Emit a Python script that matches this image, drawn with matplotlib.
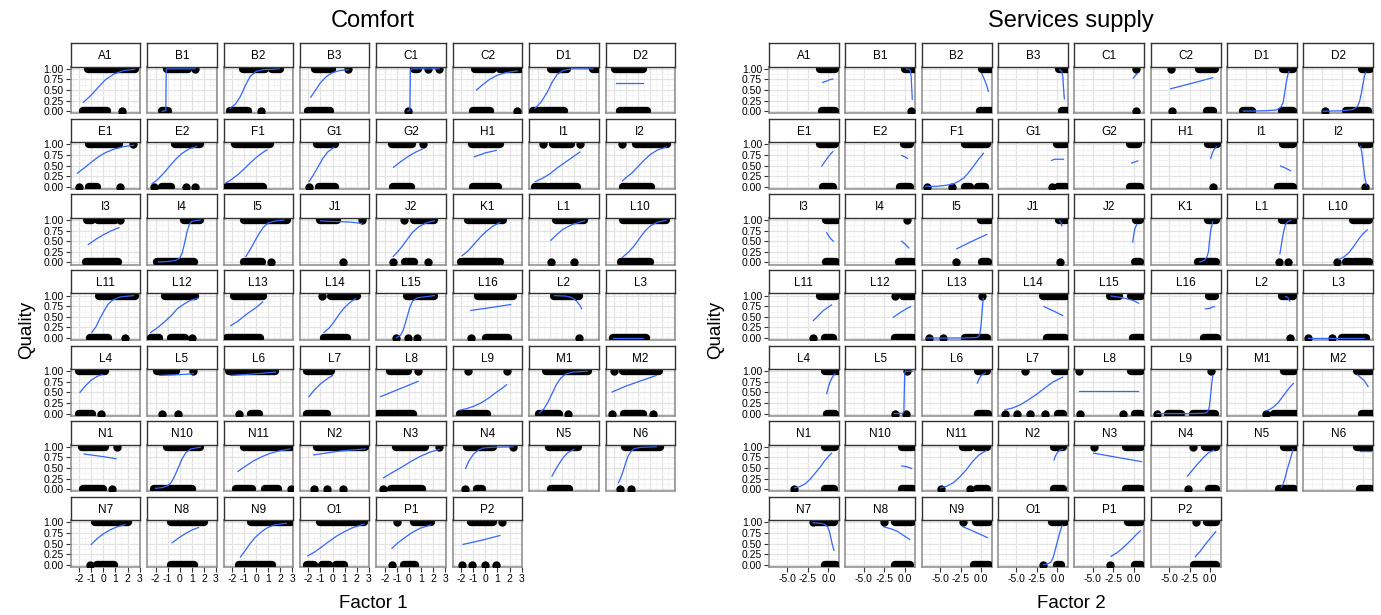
import matplotlib
matplotlib.use('Agg')
import matplotlib.pyplot as plt

plt.rcParams['font.family'] = ['Liberation Sans', 'DejaVu Sans']

# panel order (facet_wrap, 8 columns)
panels = ['A1', 'B1', 'B2', 'B3', 'C1', 'C2', 'D1', 'D2',
          'E1', 'E2', 'F1', 'G1', 'G2', 'H1', 'I1', 'I2',
          'I3', 'I4', 'I5', 'J1', 'J2', 'K1', 'L1', 'L10',
          'L11', 'L12', 'L13', 'L14', 'L15', 'L16', 'L2', 'L3',
          'L4', 'L5', 'L6', 'L7', 'L8', 'L9', 'M1', 'M2',
          'N1', 'N10', 'N11', 'N2', 'N3', 'N4', 'N5', 'N6',
          'N7', 'N8', 'N9', 'O1', 'P1', 'P2']

# observed points: (x_from, x_to) clusters of overlapping dots, at quality 1 and quality 0
comfort_ones = {
    'A1': [(-1.25, 2.6)], 'B1': [(-1.05, 0.7), (1.25, 1.25)], 'B2': [(-1.1, 0.75), (1.3, 1.95)],
    'B3': [(-1.45, -0.05), (1.3, 1.3)], 'C1': [(0.4, 0.75), (1.6, 1.6), (2.5, 2.5)],
    'C2': [(-0.85, 0.65), (1.2, 2.85)], 'D1': [(-0.9, 0.45), (2.6, 2.9)], 'D2': [(-1.9, 0.4)],
    'E1': [(-1.15, 1.3), (2.45, 2.45)], 'E2': [(-0.4, 1.7)], 'F1': [(-1.75, 1.15)],
    'G1': [(-1.3, 0.2)], 'G2': [(-1.4, 0.25), (1.15, 1.15)], 'H1': [(-1.1, 1.2)],
    'I1': [(-1.55, -1.55), (-0.7, 0.8), (1.5, 1.5)], 'I2': [(-1.3, -1.3), (-0.15, 2.35)],
    'I3': [(-1.35, -0.95), (-0.45, 0.95), (1.4, 1.4)], 'I4': [(0.35, 1.7)], 'I5': [(-1.0, 2.55)],
    'J1': [(-1.0, 0.4), (2.45, 2.45)], 'J2': [(-0.4, -0.4), (0.45, 2.1)], 'K1': [(-1.45, 1.45)],
    'L1': [(-0.45, 1.85)], 'L10': [(-1.25, 2.3)], 'L11': [(-0.35, 2.6)], 'L12': [(-1.2, 1.3)],
    'L13': [(-1.85, 0.6)], 'L14': [(-0.85, -0.85), (-0.15, 2.05)], 'L15': [(-0.2, 2.1)],
    'L16': [(-0.6, 2.3)], 'L2': [(-0.6, 1.45)], 'L3': [],
    'L4': [(-2.05, 0.15)], 'L5': [(-1.85, -0.35), (1.1, 1.1)], 'L6': [(-2.25, 1.6)],
    'L7': [(-2.1, -0.15)], 'L8': [(-1.6, -0.1), (0.75, 0.75)], 'L9': [(-1.45, -1.45), (1.8, 1.8)],
    'M1': [(-1.3, 2.15)], 'M2': [(-2.0, -2.0), (-1.25, 1.75)],
    'N1': [(-1.8, 0.15), (1.15, 1.15)], 'N10': [(-1.05, 1.7)], 'N11': [(-1.0, 2.85)],
    'N2': [(-1.25, 2.7)], 'N3': [(-1.05, 1.3), (2.5, 2.5)], 'N4': [(-1.55, 0.65), (2.3, 2.3)],
    'N5': [(-1.05, 1.35)], 'N6': [(-1.1, 1.85)],
    'N7': [(-0.7, 2.05)], 'N8': [(-0.75, 2.0)], 'N9': [(-0.45, 2.85)], 'O1': [(-1.0, 2.6)],
    'P1': [(-0.95, -0.95), (0.45, 1.8)], 'P2': [(-1.2, 0.65), (1.4, 1.4)],
}
comfort_zeros = {
    'A1': [(-1.7, 0.3), (1.55, 1.55)], 'B1': [(-1.45, -1.0)], 'B2': [(-2.2, -0.7), (0.4, 0.4)],
    'B3': [(-2.0, -0.2)], 'C1': [(-0.1, -0.1)], 'C2': [(-1.0, 0.4), (2.65, 2.65)],
    'D1': [(-2.35, 0.15)], 'D2': [(-1.5, 0.7)],
    'E1': [(-2.05, -2.05), (-1.2, -0.5), (1.4, 1.4)],
    'E2': [(-2.1, -2.1), (-1.45, -0.75), (0.5, 0.5), (1.3, 1.3)], 'F1': [(-2.4, 0.6)],
    'G1': [(-1.95, -1.95), (-1.15, 0.2)], 'G2': [(-1.3, 0.15)], 'H1': [(-1.05, 1.05)],
    'I1': [(-2.2, -1.25), (-0.95, 1.25)], 'I2': [(-1.25, 1.1)],
    'I3': [(-1.45, 1.25)], 'I4': [(-1.85, 1.15)], 'I5': [(-1.0, 0.5), (1.25, 1.25)],
    'J1': [(0.85, 0.85)], 'J2': [(-1.3, -1.3), (-0.35, 0.4), (1.55, 1.55)], 'K1': [(-2.05, 1.2)],
    'L1': [(-0.9, -0.9), (1.0, 1.0)], 'L10': [(-1.4, 0.95)],
    'L11': [(-1.1, 0.4), (1.8, 1.8)], 'L12': [(-2.4, -1.75), (-0.75, 0.45), (1.0, 1.0)],
    'L13': [(-2.4, 0.35)], 'L14': [(-0.7, 1.2)], 'L15': [(-1.05, -1.05), (-0.1, -0.1), (0.7, 0.7)],
    'L16': [(-1.2, -1.2), (0.05, 1.85)], 'L2': [(1.4, 1.4)], 'L3': [(-2.1, 0.65)],
    'L4': [(-2.05, -0.9), (-0.2, -0.2)], 'L5': [(-1.45, -1.45), (-0.15, -0.15)],
    'L6': [(-1.45, -1.45), (-0.4, 0.2)], 'L7': [(-2.1, -0.45)], 'L8': [(-2.55, 0.35)],
    'L9': [(-2.1, 0.1)], 'M1': [(-1.85, -0.2), (0.5, 0.5)],
    'M2': [(-2.15, -2.15), (-1.15, 0.4), (1.2, 1.2)],
    'N1': [(-1.7, 0.0), (0.75, 0.75)], 'N10': [(-2.15, 1.0)],
    'N11': [(-1.7, -0.35), (0.75, 1.85), (2.85, 2.85)],
    'N2': [(-1.55, -1.55), (-0.45, -0.45), (0.9, 0.9)], 'N3': [(-2.15, -2.15), (-1.5, 1.05)],
    'N4': [(-1.65, -1.65), (-0.7, -0.3)], 'N5': [(-0.85, 0.6)], 'N6': [(-1.5, -1.5), (-0.6, -0.6)],
    'N7': [(-1.1, -1.1), (-0.55, 0.85)], 'N8': [(-0.75, 1.15)], 'N9': [(-1.45, 1.3)],
    'O1': [(-2.1, -1.55), (-0.85, -0.3), (0.25, 0.95)], 'P1': [(-1.4, -1.4), (-0.4, 0.5)],
    'P2': [(-1.95, -1.95), (-1.1, -1.1), (0.0, 0.0), (0.85, 0.85)],
}
# fitted curve (x, probability)
comfort_fit = {
    'A1': [(-1.65, 0.21), (-1.0, 0.38), (-0.4, 0.57), (0.2, 0.75), (0.9, 0.88), (1.7, 0.96), (2.6, 0.99)],
    'B1': [(-1.45, 0.0), (-1.15, 0.01), (-1.12, 0.99), (-1.05, 1.0), (1.25, 1.0)],
    'B2': [(-2.15, 0.07), (-1.7, 0.17), (-1.3, 0.35), (-0.9, 0.6), (-0.5, 0.82), (0, 0.94), (0.6, 0.98), (1.9, 1.0)],
    'B3': [(-1.8, 0.33), (-1.4, 0.5), (-1.0, 0.67), (-0.5, 0.82), (0, 0.91), (0.6, 0.96), (1.3, 0.98)],
    'C1': [(-0.1, 0.0), (0.08, 0.02), (0.12, 0.97), (0.3, 1.0), (2.5, 1.0)],
    'C2': [(-0.72, 0.5), (-0.2, 0.63), (0.4, 0.76), (1.0, 0.85), (1.7, 0.91), (2.65, 0.95)],
    'D1': [(-2.2, 0.07), (-1.7, 0.22), (-1.2, 0.45), (-0.8, 0.68), (-0.4, 0.86), (0.1, 0.96), (0.9, 1.0), (2.6, 1.0)],
    'D2': [(-1.8, 0.66), (0.4, 0.66)],
    'E1': [(-2.15, 0.32), (-1.6, 0.44), (-1.0, 0.58), (-0.4, 0.71), (0.2, 0.81), (0.9, 0.89), (1.7, 0.95), (2.5, 0.98)],
    'E2': [(-2.3, 0.07), (-1.8, 0.18), (-1.3, 0.33), (-0.8, 0.5), (-0.3, 0.66), (0.2, 0.79), (0.8, 0.9), (1.4, 0.95)],
    'F1': [(-2.5, 0.09), (-2.0, 0.18), (-1.5, 0.29), (-1.0, 0.42), (-0.5, 0.56), (0, 0.69), (0.5, 0.8), (0.9, 0.87)],
    'G1': [(-1.95, 0.12), (-1.6, 0.27), (-1.2, 0.47), (-0.8, 0.67), (-0.4, 0.82), (0.1, 0.93)],
    'G2': [(-1.27, 0.46), (-0.7, 0.59), (-0.1, 0.71), (0.5, 0.81), (1.1, 0.89)],
    'H1': [(-0.9, 0.71), (0, 0.8), (0.9, 0.86)],
    'I1': [(-2.2, 0.12), (-1.6, 0.2), (-1.0, 0.3), (-0.4, 0.44), (0.2, 0.56), (0.9, 0.7), (1.5, 0.82)],
    'I2': [(-1.3, 0.14), (-0.9, 0.24), (-0.5, 0.33), (0, 0.48), (0.5, 0.63), (1.0, 0.76), (1.6, 0.87), (2.35, 0.94)],
    'I3': [(-1.25, 0.42), (-0.6, 0.55), (0, 0.65), (0.6, 0.74), (1.3, 0.82)],
    'I4': [(-1.75, 0.01), (-1.0, 0.02), (-0.3, 0.05), (0, 0.1), (0.2, 0.22), (0.4, 0.45), (0.6, 0.72), (0.8, 0.9), (1.0, 0.97), (1.7, 1.0)],
    'I5': [(-0.85, 0.14), (-0.5, 0.3), (-0.15, 0.48), (0.2, 0.66), (0.6, 0.83), (1.0, 0.93), (1.6, 0.98), (2.3, 1.0)],
    'J1': [(-1.0, 0.98), (0.6, 0.96), (1.5, 0.95), (2.4, 0.92)],
    'J2': [(-1.3, 0.14), (-0.9, 0.26), (-0.5, 0.4), (-0.1, 0.56), (0.3, 0.71), (0.8, 0.84), (1.4, 0.93), (2.1, 0.98)],
    'K1': [(-1.9, 0.16), (-1.4, 0.28), (-0.9, 0.44), (-0.4, 0.6), (0.1, 0.74), (0.6, 0.85), (1.2, 0.94)],
    'L1': [(-0.9, 0.52), (-0.4, 0.66), (0.1, 0.78), (0.9, 0.9), (1.9, 0.98)],
    'L10': [(-1.3, 0.12), (-0.8, 0.24), (-0.3, 0.4), (0.2, 0.6), (0.6, 0.75), (1.0, 0.86), (1.6, 0.95), (2.3, 0.99)],
    'L11': [(-0.95, 0.13), (-0.6, 0.27), (-0.3, 0.45), (0.1, 0.66), (0.4, 0.8), (0.8, 0.9), (1.4, 0.97), (2.5, 1.0)],
    'L12': [(-2.4, 0.13), (-1.9, 0.23), (-1.3, 0.37), (-0.7, 0.53), (-0.2, 0.69), (0.4, 0.81), (0.9, 0.89), (1.5, 0.94)],
    'L13': [(-2.1, 0.29), (-1.5, 0.4), (-0.8, 0.56), (0, 0.72), (0.55, 0.85)],
    'L14': [(-0.72, 0.13), (-0.3, 0.23), (0.1, 0.37), (0.5, 0.54), (0.9, 0.69), (1.4, 0.83), (1.9, 0.93)],
    'L15': [(-1.05, 0.01), (-0.7, 0.06), (-0.45, 0.2), (-0.2, 0.45), (0.05, 0.7), (0.3, 0.87), (0.7, 0.95), (2.1, 1.0)],
    'L16': [(-1.2, 0.65), (0.5, 0.72), (2.1, 0.79)],
    'L2': [(-0.6, 1.0), (0.3, 0.99), (0.8, 0.96), (1.2, 0.88), (1.5, 0.77), (1.65, 0.69)],
    'L3': [(-2.05, 0.0), (0.4, 0.0)],
    'L4': [(-1.93, 0.5), (-1.5, 0.65), (-1.0, 0.79), (-0.5, 0.88), (-0.1, 0.92)],
    'L5': [(-1.65, 0.9), (-1.0, 0.91), (0, 0.92), (1.15, 0.94)],
    'L6': [(-2.1, 0.9), (0, 0.94), (1.6, 0.98)],
    'L7': [(-1.95, 0.4), (-1.5, 0.56), (-1.0, 0.7), (-0.5, 0.81), (0, 0.9)],
    'L8': [(-2.35, 0.4), (-0.8, 0.58), (0.75, 0.76)],
    'L9': [(-2.1, 0.08), (-1.5, 0.12), (-0.9, 0.18), (-0.3, 0.26), (0.3, 0.37), (0.9, 0.5), (1.4, 0.6), (1.75, 0.68)],
    'M1': [(-1.83, 0.02), (-1.5, 0.1), (-1.2, 0.24), (-0.8, 0.47), (-0.45, 0.68), (-0.1, 0.83), (0.3, 0.93), (0.9, 0.98), (2.1, 1.0)],
    'M2': [(-2.15, 0.51), (-1.0, 0.65), (0, 0.75), (0.8, 0.83), (1.5, 0.9)],
    'N1': [(-1.6, 0.83), (-0.3, 0.78), (1.05, 0.72)],
    'N10': [(-2.0, 0.02), (-1.4, 0.04), (-1.0, 0.08), (-0.7, 0.16), (-0.4, 0.32), (-0.1, 0.52), (0.2, 0.72), (0.5, 0.86), (0.9, 0.95), (1.7, 0.99)],
    'N11': [(-1.5, 0.42), (-0.9, 0.54), (-0.2, 0.67), (0.5, 0.77), (1.2, 0.85), (2.0, 0.91), (2.8, 0.95)],
    'N2': [(-1.55, 0.81), (0.6, 0.9), (2.7, 0.95)],
    'N3': [(-2.1, 0.27), (-1.4, 0.39), (-0.6, 0.52), (0.2, 0.66), (0.9, 0.77), (1.7, 0.87), (2.5, 0.94)],
    'N4': [(-1.63, 0.49), (-1.35, 0.67), (-1.0, 0.82), (-0.6, 0.92), (-0.2, 0.97), (0.6, 0.99), (2.3, 1.0)],
    'N5': [(-0.8, 0.31), (-0.5, 0.47), (-0.2, 0.61), (0.1, 0.74), (0.5, 0.86), (1.0, 0.94)],
    'N6': [(-1.63, 0.15), (-1.45, 0.26), (-1.25, 0.42), (-1.05, 0.6), (-0.85, 0.77), (-0.6, 0.89), (-0.3, 0.96), (0.3, 0.99), (1.5, 1.0)],
    'N7': [(-1.0, 0.48), (-0.5, 0.62), (0, 0.73), (0.6, 0.83), (1.2, 0.9), (1.8, 0.95)],
    'N8': [(-0.63, 0.52), (0, 0.65), (0.5, 0.74), (1.0, 0.82), (1.55, 0.88)],
    'N9': [(-1.3, 0.18), (-0.9, 0.34), (-0.5, 0.5), (-0.1, 0.64), (0.4, 0.77), (0.9, 0.87), (1.5, 0.94), (2.5, 0.98)],
    'O1': [(-2.05, 0.21), (-1.5, 0.3), (-0.9, 0.42), (-0.3, 0.55), (0.3, 0.67), (0.9, 0.77), (1.7, 0.88), (2.6, 0.96)],
    'P1': [(-1.4, 0.39), (-0.9, 0.52), (-0.4, 0.63), (0.2, 0.75), (0.9, 0.86), (1.8, 0.94)],
    'P2': [(-1.85, 0.48), (-0.3, 0.58), (1.2, 0.69)],
}

services_ones = {
    'A1': [(-1.0, 0.8)], 'B1': [(0.05, 1.35)], 'B2': [(0.1, 1.3)], 'B3': [(0.25, 1.2)],
    'C1': [(0.3, 0.3)], 'C2': [(-4.8, -4.8), (-1.4, 0.6)], 'D1': [(-0.4, 0.8)], 'D2': [(-0.15, 0.85)],
    'E1': [(-1.0, 0.8)], 'E2': [(-0.1, 0.7)], 'F1': [(-1.95, 0.7)], 'G1': [(-0.1, 1.1)],
    'G2': [(-0.45, 0.55)], 'H1': [(-0.2, 0.8)], 'I1': [(-0.4, 0.8)], 'I2': [(-0.15, 0.85)],
    'I3': [(-0.3, 1.0)], 'I4': [(0.25, 0.25)], 'I5': [(0.0, 1.1)], 'J1': [(0.25, 1.1)],
    'J2': [(0.3, 0.75)], 'K1': [(-0.3, 0.75)], 'L1': [(-0.55, 1.1)], 'L10': [(-1.25, 0.75)],
    'L11': [(-1.0, 0.9)], 'L12': [(-1.2, -1.2), (-0.15, 1.05)], 'L13': [(0.1, 0.1)],
    'L14': [(-1.7, 1.1)], 'L15': [(-2.95, -1.75), (-0.35, 0.9)], 'L16': [(-0.15, 0.65)],
    'L2': [(-0.5, 0.75)], 'L3': [],
    'L4': [(-0.4, 1.2)], 'L5': [(0.25, 0.25)], 'L6': [(-0.35, 0.7)],
    'L7': [(-3.95, -3.95), (-0.3, 1.1)], 'L8': [(-6.7, -6.7), (-0.35, 0.9)], 'L9': [(0.1, 0.1)],
    'M1': [(-0.3, 0.95)], 'M2': [(-0.65, 1.0)],
    'N1': [(-0.4, 0.8)], 'N10': [(-0.35, 1.05)], 'N11': [(-2.15, -1.35), (-0.55, 0.7)],
    'N2': [(-0.4, 0.65)], 'N3': [(-4.9, -4.9), (-0.9, 0.95)], 'N4': [(-2.05, -2.05), (-0.65, 0.7)],
    'N5': [(-0.35, 1.2)], 'N6': [(-0.65, 0.95)],
    'N7': [(-1.85, -1.85), (-1.45, 0.7)], 'N8': [(-2.5, -2.5), (-1.15, 0.95)],
    'N9': [(-2.15, -2.15), (-0.65, 0.95)], 'O1': [(-0.65, 0.95)], 'P1': [(-0.65, 0.95)],
    'P2': [(-1.7, -1.7), (-0.35, 0.7)],
}
services_zeros = {
    'A1': [(-0.8, 0.8)], 'B1': [(0.75, 0.75)], 'B2': [(-0.1, 1.3)], 'B3': [(0.55, 1.2)],
    'C1': [(0.3, 0.3)], 'C2': [(-4.65, -4.65), (-0.4, 0.4)], 'D1': [(-5.25, -4.25), (-0.6, 0.8)],
    'D2': [(-4.65, -4.65), (-2.0, 0.65)],
    'E1': [(-0.6, 0.6)], 'E2': [(-0.55, 0.65)],
    'F1': [(-6.6, -6.6), (-3.6, -3.6), (-1.95, -1.35), (-0.4, 0.45)],
    'G1': [(-0.7, -0.7), (0.1, 1.1)], 'G2': [(-0.45, 0.75)], 'H1': [(0.4, 0.4)],
    'I1': [(-1.0, 0.8)], 'I2': [(0.25, 0.25)],
    'I3': [(-0.3, 0.95)], 'I4': [(-0.65, 1.0)], 'I5': [(-3.05, -3.05), (0.1, 0.9)],
    'J1': [(0.35, 0.35)], 'J2': [(0.1, 0.75)], 'K1': [(-1.5, 0.75)],
    'L1': [(-0.9, -0.9), (0.25, 0.25)], 'L10': [(-3.1, -3.1), (-2.05, -1.5), (-1.1, 0.75)],
    'L11': [(-1.9, -1.9), (-0.4, 0.55)], 'L12': [(-1.2, 1.05)],
    'L13': [(-6.4, -6.4), (-4.65, -4.65), (-1.95, 0.7)], 'L14': [(-1.3, 0.95)],
    'L15': [(-0.1, 1.0)], 'L16': [(-0.7, 0.8)], 'L2': [(0.4, 0.4)],
    'L3': [(-6.75, -6.75), (-3.8, -3.8), (-2.5, 0.35)],
    'L4': [(-0.2, 0.8)], 'L5': [(-1.2, -1.2), (0.15, 0.15)], 'L6': [(-0.35, 0.9)],
    'L7': [(-6.4, -6.4), (-4.9, -4.9), (-3.4, -3.4), (-1.5, -1.5), (0.1, 0.7)],
    'L8': [(-6.55, -6.55), (-1.25, -1.25), (0.1, 0.9)],
    'L9': [(-6.5, -6.5), (-5.15, -3.55), (-2.1, 0.55)],
    'M1': [(-2.5, -2.5), (-1.5, 1.15)], 'M2': [(-0.1, 1.1)],
    'N1': [(-4.25, -4.25), (-0.4, 0.7)], 'N10': [(-0.35, 1.05)],
    'N11': [(-4.9, -4.9), (-1.4, -1.4), (-0.55, 0.7)], 'N2': [(-0.4, 0.65)],
    'N3': [(-0.9, 0.95)], 'N4': [(-2.75, -2.75), (-0.1, 0.7)], 'N5': [(-0.9, 0.95)],
    'N6': [(-0.4, 0.95)],
    'N7': [(-0.35, 0.95)], 'N8': [(-1.15, 0.7)], 'N9': [(-0.8, 0.95)],
    'O1': [(-1.7, -1.7), (-0.1, 0.45)], 'P1': [(-2.85, -2.85), (0.15, 0.95)], 'P2': [(-1.95, 0.7)],
}
services_fit = {
    'A1': [(-0.7, 0.68), (-0.2, 0.71), (0.1, 0.74), (0.55, 0.76)],
    'B1': [(0.2, 1.0), (0.5, 0.99), (0.7, 0.96), (0.8, 0.8), (0.86, 0.55), (0.93, 0.28)],
    'B2': [(0.08, 0.89), (0.3, 0.8), (0.5, 0.71), (0.7, 0.6), (0.9, 0.47)],
    'B3': [(0.3, 0.98), (0.55, 0.93), (0.68, 0.8), (0.75, 0.55), (0.85, 0.29)],
    'C1': [(-0.05, 0.78), (0.2, 0.84), (0.45, 0.89)],
    'C2': [(-4.8, 0.53), (-2.2, 0.66), (0.33, 0.79)],
    'D1': [(-5.27, 0.0), (-2.5, 0.01), (-1.2, 0.03), (-0.7, 0.09), (-0.4, 0.2), (-0.2, 0.45), (0, 0.7), (0.2, 0.88), (0.34, 0.94)],
    'D2': [(-4.84, 0.0), (-2.5, 0.01), (-1.2, 0.04), (-0.7, 0.1), (-0.4, 0.22), (-0.2, 0.4), (0, 0.62), (0.2, 0.82), (0.37, 0.92)],
    'E1': [(-0.8, 0.49), (-0.4, 0.6), (0, 0.71), (0.3, 0.78), (0.55, 0.83)],
    'E2': [(-0.37, 0.74), (0, 0.71), (0.33, 0.67)],
    'F1': [(-6.8, 0.01), (-5.5, 0.01), (-4.5, 0.03), (-3.5, 0.06), (-2.8, 0.12), (-2.1, 0.21), (-1.5, 0.34), (-0.9, 0.49), (-0.3, 0.65), (0.3, 0.79)],
    'G1': [(-0.7, 0.62), (-0.4, 0.65), (0.75, 0.65)],
    'G2': [(-0.24, 0.56), (0.49, 0.61)],
    'H1': [(0.08, 0.67), (0.25, 0.78), (0.45, 0.87), (0.8, 0.95)],
    'I1': [(-0.72, 0.49), (-0.1, 0.44), (0.5, 0.38)],
    'I2': [(-0.25, 0.96), (-0.12, 0.8), (0, 0.62), (0.12, 0.42), (0.25, 0.22), (0.45, 0.04)],
    'I3': [(-0.2, 0.7), (0.2, 0.58), (0.6, 0.5)],
    'I4': [(-0.37, 0.5), (0, 0.44), (0.5, 0.34)],
    'I5': [(-2.97, 0.32), (-1.2, 0.49), (0.7, 0.66)],
    'J1': [(0.3, 0.98), (0.45, 0.93), (0.55, 0.86)],
    'J2': [(-0.12, 0.48), (0, 0.65), (0.12, 0.78), (0.37, 0.9)],
    'K1': [(-1.22, 0.01), (-0.7, 0.05), (-0.4, 0.12), (-0.2, 0.25), (-0.05, 0.55), (0.1, 0.78), (0.33, 0.96)],
    'L1': [(-0.8, 0.2), (-0.65, 0.38), (-0.5, 0.56), (-0.3, 0.76), (-0.1, 0.9), (0.2, 0.97), (0.55, 0.99)],
    'L10': [(-2.9, 0.07), (-2.3, 0.13), (-1.7, 0.23), (-1.1, 0.38), (-0.5, 0.55), (0, 0.67), (0.55, 0.77)],
    'L11': [(-1.83, 0.41), (-1.2, 0.53), (-0.6, 0.65), (0, 0.73), (0.4, 0.78)],
    'L12': [(-1.38, 0.49), (-0.4, 0.62), (0.3, 0.7), (0.73, 0.74)],
    'L13': [(-6.6, 0.0), (-2.0, 0.0), (-0.6, 0.01), (-0.3, 0.03), (-0.15, 0.1), (0, 0.3), (0.1, 0.55), (0.2, 0.78), (0.28, 0.93)],
    'L14': [(-1.63, 0.74), (-0.5, 0.64), (0.65, 0.53)],
    'L15': [(-2.76, 0.99), (-1.4, 0.95), (-0.1, 0.89), (0.6, 0.82)],
    'L16': [(-0.57, 0.69), (0, 0.7), (0.2, 0.73), (0.53, 0.74)],
    'L2': [(-0.1, 0.98), (0.15, 0.96), (0.4, 0.87)],
    'L3': [(-6.75, 0.01), (0.2, 0.01)],
    'L4': [(-0.2, 0.47), (0, 0.62), (0.2, 0.74), (0.5, 0.86), (0.81, 0.94)],
    'L5': [(-1.26, 0.0), (-0.2, 0.01), (-0.1, 0.05), (-0.05, 0.5), (0.0, 0.95), (0.1, 1.0), (1.0, 1.0)],
    'L6': [(-0.45, 0.72), (-0.2, 0.83), (0, 0.9), (0.53, 0.96)],
    'L7': [(-6.4, 0.09), (-5.5, 0.13), (-4.5, 0.21), (-3.5, 0.33), (-2.5, 0.46), (-1.5, 0.61), (-0.5, 0.75), (0.65, 0.86)],
    'L8': [(-6.72, 0.54), (0.49, 0.54)],
    'L9': [(-6.5, 0.0), (-2.0, 0.0), (-0.6, 0.01), (-0.3, 0.04), (-0.1, 0.15), (0.05, 0.4), (0.2, 0.7), (0.33, 0.9)],
    'M1': [(-2.52, 0.06), (-2.0, 0.1), (-1.5, 0.17), (-1.0, 0.26), (-0.5, 0.39), (0, 0.52), (0.5, 0.64), (0.85, 0.71)],
    'M2': [(-0.65, 0.92), (-0.2, 0.84), (0.2, 0.77), (0.65, 0.64)],
    'N1': [(-4.15, 0.03), (-3.5, 0.06), (-2.8, 0.13), (-2.2, 0.24), (-1.6, 0.38), (-1.0, 0.52), (-0.4, 0.68), (0.1, 0.79), (0.4, 0.85)],
    'N10': [(-0.37, 0.55), (0.2, 0.53), (0.85, 0.49)],
    'N11': [(-4.92, 0.03), (-4.2, 0.07), (-3.4, 0.15), (-2.6, 0.29), (-1.8, 0.46), (-1.0, 0.66), (-0.3, 0.8), (0.6, 0.91)],
    'N2': [(-0.41, 0.69), (-0.2, 0.8), (0, 0.86), (0.3, 0.92), (0.65, 0.94)],
    'N3': [(-4.9, 0.85), (-2.0, 0.75), (0.96, 0.65)],
    'N4': [(-2.77, 0.31), (-2.2, 0.44), (-1.5, 0.6), (-0.8, 0.75), (-0.2, 0.86), (0.45, 0.92)],
    'N5': [(-0.64, 0.05), (-0.4, 0.12), (-0.15, 0.28), (0.1, 0.47), (0.4, 0.66), (0.8, 0.93)],
    'N6': [(-0.37, 0.9), (0.96, 0.9)],
    'N7': [(-1.86, 0.99), (-1.0, 0.98), (-0.5, 0.96), (-0.1, 0.9), (0.15, 0.78), (0.35, 0.6), (0.5, 0.47), (0.69, 0.34)],
    'N8': [(-2.6, 0.9), (-1.7, 0.85), (-0.9, 0.79), (-0.2, 0.7), (0.6, 0.6)],
    'N9': [(-2.23, 0.9), (-0.8, 0.78), (0.8, 0.64)],
    'O1': [(-1.7, 0.0), (-1.2, 0.02), (-0.8, 0.06), (-0.5, 0.18), (-0.2, 0.4), (0.1, 0.62), (0.35, 0.8), (0.6, 0.93)],
    'P1': [(-2.77, 0.2), (-2.0, 0.29), (-1.2, 0.42), (-0.4, 0.57), (0.3, 0.71), (0.8, 0.8)],
    'P2': [(-1.81, 0.19), (-1.2, 0.32), (-0.6, 0.48), (0, 0.62), (0.69, 0.78)],
}

y_ticks = [0, 0.25, 0.5, 0.75, 1.0]
y_ticklabels = ['0.00', '0.25', '0.50', '0.75', '1.00']
comfort_xticks = [-2, -1, 0, 1, 2, 3]
comfort_xticklabels = ['-2', '-1', '0', '1', '2', '3']
services_xticks = [-5.0, -2.5, 0.0]
services_xticklabels = ['-5.0', '-2.5', '0.0']

W, H = 1381, 615
fig = plt.figure(figsize=(W / 100, H / 100), dpi=100)

DOT_D = 6.0          # dot diameter in points
LINE_BLUE = '#3366FF'
NCOL = 8


def px_axes(x0, top, w, h, **kw):
    return fig.add_axes([x0 / W, 1 - (top + h) / H, w / W, h / H], **kw)


def draw_clusters(ax, runs, y):
    for a, b in runs:
        if b - a < 1e-9:
            ax.scatter([a], [y], s=DOT_D ** 2, color='black', linewidths=0, zorder=3)
        else:
            ax.plot([a, b], [y, y], color='black', lw=DOT_D, solid_capstyle='round', zorder=3)


def draw_grid(left, pitch, width, xlim, xticks, xticklabels, xminor, ones, zeros, fit,
              title, xlabel, ylabel_x):
    top0, row_pitch, strip_h, panel_h = 43.3, 75.6, 23.4, 46.6
    nrow = (len(panels) + NCOL - 1) // NCOL
    for i, name in enumerate(panels):
        r, c = divmod(i, NCOL)
        x0 = left + c * pitch
        top = top0 + r * row_pitch
        ax = px_axes(x0, top + strip_h, width, panel_h)
        ax.set_xlim(*xlim)
        ax.set_ylim(-0.05, 1.05)
        ax.set_xticks(xticks)
        ax.set_xticklabels(xticklabels)
        ax.set_xticks(xminor, minor=True)
        ax.set_yticks(y_ticks)
        ax.set_yticklabels(y_ticklabels)
        ax.set_yticks([0.125, 0.375, 0.625, 0.875], minor=True)
        ax.grid(which='major', color='#e3e3e3', lw=0.9)
        ax.grid(which='minor', color='#f2f2f2', lw=0.6)
        ax.set_axisbelow(True)
        for s in ax.spines.values():
            s.set_color('#8a8a8a')
            s.set_linewidth(1.1)
        ax.tick_params(which='minor', length=0)
        show_x = r == nrow - 1
        ax.tick_params(which='major', direction='out', length=3.5, width=0.8, color='#333333',
                       labelsize=7.5, pad=1.5,
                       left=(c == 0), labelleft=(c == 0),
                       bottom=show_x, labelbottom=show_x)

        draw_clusters(ax, ones.get(name, []), 1.0)
        draw_clusters(ax, zeros.get(name, []), 0.0)
        pts = fit[name]
        ax.plot([p[0] for p in pts], [p[1] for p in pts], color=LINE_BLUE, lw=0.9, zorder=4)

        # facet strip
        sx = px_axes(x0, top, width, strip_h, zorder=5)
        sx.set_facecolor('white')
        sx.set_xticks([])
        sx.set_yticks([])
        for s in sx.spines.values():
            s.set_color('#333333')
            s.set_linewidth(1.0)
        sx.text(0.5, 0.45, name, ha='center', va='center', fontsize=8.5, transform=sx.transAxes)

    cx = left + (NCOL - 1) * pitch / 2 + width / 2
    fig.text(cx / W, 1 - 21 / H, title, ha='center', va='center', fontsize=17)
    fig.text(cx / W, 1 - 603 / H, xlabel, ha='center', va='center', fontsize=13.5)
    fig.text(ylabel_x / W, 1 - 330 / H, 'Quality', ha='center', va='center', rotation=90, fontsize=13.5)


draw_grid(70.7, 76.4, 69.5, (-2.7, 3.05), comfort_xticks, comfort_xticklabels,
          [-2.5, -1.5, -0.5, 0.5, 1.5, 2.5],
          comfort_ones, comfort_zeros, comfort_fit, 'Comfort', 'Factor 1', 27)
draw_grid(769.0, 76.35, 69.8, (-7.25, 1.28), services_xticks, services_xticklabels,
          [-6.25, -3.75, -1.25, 1.25],
          services_ones, services_zeros, services_fit, 'Services supply', 'Factor 2', 716)

fig.savefig('out.png', dpi=100, facecolor='white')
